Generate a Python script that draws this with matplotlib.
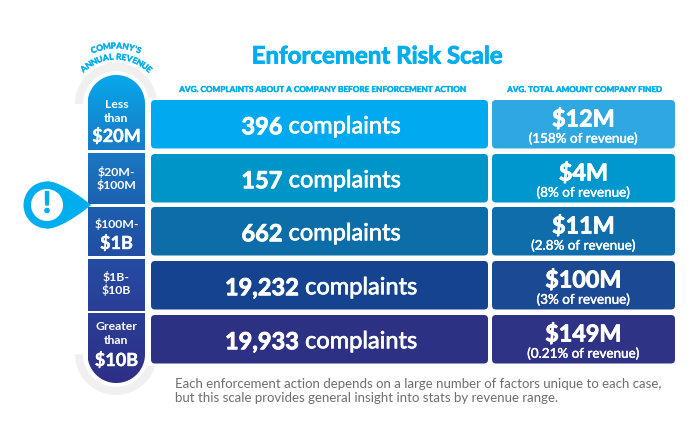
import numpy as np
import matplotlib
matplotlib.use("Agg")
import matplotlib.pyplot as plt
import matplotlib.patheffects as pe
from matplotlib.colors import LinearSegmentedColormap
from matplotlib.font_manager import FontProperties
from matplotlib.patches import Circle, FancyBboxPatch, PathPatch, Rectangle
from matplotlib.path import Path
from matplotlib.textpath import TextPath

plt.rcParams["font.family"] = ["Lato", "DejaVu Sans"]

revenue_labels = [["Less", "than", "$20M"], ["$20M-", "$100M"], ["$100M-", "$1B"],
                  ["$1B-", "$10B"], ["Greater", "than", "$10B"]]
complaint_counts = ["396", "157", "662", "19,232", "19,933"]
fine_amounts = ["$12M", "$4M", "$11M", "$100M", "$149M"]
fine_shares = ["158%", "8%", "2.8%", "3%", "0.21%"]

# Mise en page en pixels
BLUE = "#00aeef"
row_tops = [100, 154, 207, 261, 315]
row_h = 48.5
col1_x, col1_w = 151, 337
col2_x, col2_w = 492, 183
col1_colors = ["#00a9f0", "#0095c8", "#0d6da8", "#15438f", "#2d3184"]
col2_colors = ["#2fa8e2", "#0097cf", "#0f6dab", "#1c4993", "#2e3386"]
cell_edges = [(75, 150), (152.5, 204), (207, 256), (259, 310.5), (313, 383)]
label_ys = [[104, 118, 136], [172, 185], [224, 243], [277, 290], [327, 341, 360]]

fig = plt.figure(figsize=(7, 4.47), dpi=100)
ax = fig.add_axes([0, 0, 1, 1])
ax.set_xlim(0, 700)
ax.set_ylim(447, 0)
ax.axis("off")


def heavy(width=0.35):
    return [pe.withStroke(linewidth=width, foreground="white")]


def pill_path(left, right, top, bottom):
    # Vraie forme de pilule, avec des demi-cercles aux deux bouts
    r = (right - left) / 2
    cx = (left + right) / 2
    a = np.linspace(np.pi, 0, 60)
    xs = np.r_[cx + r * np.cos(a), cx - r * np.cos(a)]
    ys = np.r_[top + r - r * np.sin(a), bottom - r + r * np.sin(a)]
    return Path(np.c_[xs, ys], closed=False)


def rounded_rect(x, y, w, h, color):
    ax.add_patch(FancyBboxPatch((x + 3, y + 3), w - 6, h - 6, boxstyle="round,pad=3,rounding_size=4",
                                fc=color, ec="none", zorder=2))


def mixed_text(cx, cy, bold, regular, size):
    # Centre un morceau gras suivi d'un morceau normal
    r = fig.canvas.get_renderer()
    t1 = ax.text(0, cy, bold, fontsize=size, fontweight="bold", color="white", va="center_baseline", ha="left",
                 zorder=4, path_effects=heavy(0.6))
    t2 = ax.text(0, cy, regular, fontsize=size, color="white", va="center_baseline", ha="left",
                 zorder=4, path_effects=heavy(0.5))
    w1 = t1.get_window_extent(r).width
    w2 = t2.get_window_extent(r).width
    space = size * 0.36
    start = cx - (w1 + space + w2) / 2
    t1.set_x(start)
    t2.set_x(start + w1 + space)


def arc_text(text, cx, cy, radius, size, tracking=0.9):
    # Place chaque lettre sur l'arc selon sa largeur réelle
    fp = FontProperties(family="Lato", weight="bold", size=size)
    px = 100 / 72
    widths = []
    for ch in text:
        if ch == " ":
            widths.append(2.5)
        else:
            widths.append(TextPath((0, 0), ch, prop=fp).get_extents().width * px + tracking)
    total = sum(widths)
    pos = -total / 2
    for ch, w in zip(text, widths):
        ang = np.degrees((pos + w / 2) / radius)
        x = cx + radius * np.sin(np.radians(ang))
        y = cy - radius * np.cos(np.radians(ang))
        ax.text(x, y, ch, fontsize=size, fontweight="bold", color=BLUE, rotation=-ang,
                rotation_mode="anchor", ha="center", va="center",
                path_effects=[pe.withStroke(linewidth=0.25, foreground=BLUE)])
        pos += w


# Rail gris autour de la colonne de gauche
ax.add_patch(PathPatch(pill_path(79, 153, 67, 391), fc="none", ec="#f0f0f1", lw=5.8, zorder=1))
ax.add_patch(Rectangle((147, 98), 14, 268, fc="white", ec="none", zorder=1.5))

# Colonne de gauche en dégradé
grad = LinearSegmentedColormap.from_list("rev", ["#06a8ea", "#1a78c4", "#1f56a8", "#2a3f98", "#2e2f85"])
img = ax.imshow(np.linspace(0, 1, 256).reshape(-1, 1), cmap=grad, extent=[87.5, 145, 383, 75],
                aspect="auto", zorder=2)
ax.set_xlim(0, 700)
ax.set_ylim(447, 0)
pill = PathPatch(pill_path(87.5, 145, 75, 383), fc="none", ec="none")
ax.add_patch(pill)
img.set_clip_path(pill)
for top, bottom in zip(cell_edges[:-1], cell_edges[1:]):
    ax.add_patch(Rectangle((86, top[1]), 61, bottom[0] - top[1], fc="white", ec="none", zorder=3))

# Libellés de revenu
for lines, ys in zip(revenue_labels, label_ys):
    for line, y in zip(lines, ys):
        big = line == "$1B" or (len(lines) == 3 and line.startswith("$"))
        ax.text(116.5, y, line, color="white", ha="center", va="center", fontsize=13 if big else 8.8,
                fontweight="bold", zorder=4, path_effects=heavy(0.3) if big else None)

# Repère avec le point d'exclamation
pin_x, pin_y = 47, 205
verts = [(pin_x, pin_y - 23.5), (pin_x + 17, pin_y - 23.5), (91, pin_y), (91, pin_y), (91, pin_y),
         (pin_x + 17, pin_y + 23.5), (pin_x, pin_y + 23.5)]
codes = [Path.MOVETO, Path.CURVE4, Path.CURVE4, Path.CURVE4, Path.CURVE4, Path.CURVE4, Path.CURVE4]
ax.add_patch(PathPatch(Path(verts, codes), fc=BLUE, ec="none", zorder=5))
ax.add_patch(Circle((pin_x, pin_y), 23.5, fc=BLUE, ec="none", zorder=5))
ax.add_patch(Circle((pin_x, pin_y), 16, fc="white", ec="none", zorder=6))
ax.text(pin_x, pin_y - 0.5, "!", color=BLUE, fontsize=21, fontweight="bold", ha="center", va="center", zorder=7,
        path_effects=[pe.withStroke(linewidth=0.8, foreground=BLUE)])

# Lignes du tableau
for i, top in enumerate(row_tops):
    rounded_rect(col1_x, top, col1_w, row_h, col1_colors[i])
    rounded_rect(col2_x, top, col2_w, row_h, col2_colors[i])
    mixed_text(col1_x + col1_w / 2 + 1.5, top + row_h / 2 + 0.5, complaint_counts[i], "complaints", 17)
    ax.text(col2_x + col2_w / 2, top + 20, fine_amounts[i], color="white", fontsize=16.8, fontweight="bold",
            ha="center", va="center", zorder=4, path_effects=heavy(0.6))
    ax.text(col2_x + col2_w / 2, top + 38.5, f"({fine_shares[i]} of revenue)", color="white", fontsize=9.7,
            ha="center", va="center", zorder=4, path_effects=heavy(0.3))

# Titres
ax.text(377, 56, "Enforcement Risk Scale", color=BLUE, fontsize=17.3, fontweight="bold", ha="center", va="center",
        path_effects=[pe.withStroke(linewidth=0.6, foreground=BLUE)])
header_fx = [pe.withStroke(linewidth=0.3, foreground=BLUE)]
ax.text(320.5, 89.5, "AVG. COMPLAINTS ABOUT A COMPANY BEFORE ENFORCEMENT ACTION", color=BLUE, fontsize=5.9,
        fontweight="bold", ha="center", va="center", path_effects=header_fx)
ax.text(583.5, 89.5, "AVG. TOTAL AMOUNT COMPANY FINED", color=BLUE, fontsize=5.8, fontweight="bold",
        ha="center", va="center", path_effects=header_fx)
arc_text("COMPANY'S", 116, 106, 60, 6.0)
arc_text("ANNUAL REVENUE", 116, 106, 49, 6.0)

# Note de bas de page
ax.text(175, 384, "Each enforcement action depends on a large number of factors unique to each case,",
        color="#6e6e70", fontsize=9.55, ha="left", va="center")
ax.text(175, 398.5, "but this scale provides general insight into stats by revenue range.",
        color="#6e6e70", fontsize=9.55, ha="left", va="center")

fig.savefig("out.png", dpi=100, facecolor="white")
